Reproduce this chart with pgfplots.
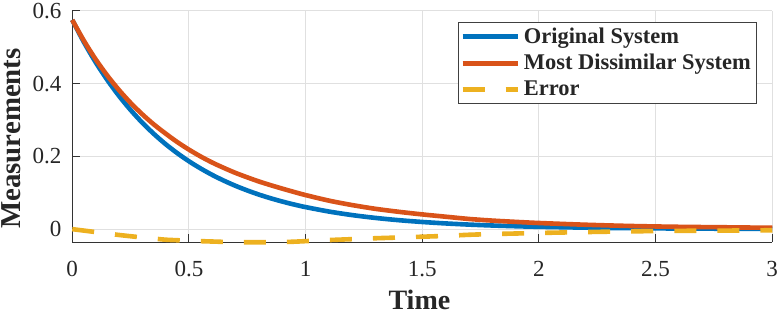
\documentclass[border=0pt]{standalone}
\usepackage{fontspec}
\setmainfont{Liberation Serif}
\usepackage{pgfplots}
\pgfplotsset{compat=1.18}
\definecolor{mblue}{rgb}{0,0.447,0.741}
\definecolor{morange}{rgb}{0.85,0.325,0.098}
\definecolor{myellow}{rgb}{0.929,0.694,0.125}
\begin{document}
\begin{tikzpicture}
\begin{axis}[
  scale only axis, width=349.5pt, height=115.5pt,
  xmin=0, xmax=3, ymin=-0.0358, ymax=0.6,
  axis x line*=bottom, axis y line*=left,
  axis line style={-, draw=black!80, line width=0.5pt},
  xtick={0,0.5,1,1.5,2,2.5,3},
  ytick={0,0.2,0.4,0.6},
  tick align=inside, major tick length=4pt,
  tick style={black!80, line width=0.5pt},
  grid=major, major grid style={black!12, line width=0.5pt},
  tick label style={font=\fontsize{11.5}{13}\selectfont, text=black!85, inner sep=0pt, /pgf/number format/assume math mode=true},
  xticklabel style={yshift=-9.5pt},
  yticklabel style={xshift=-5.25pt, inner ysep=1.5pt},
  xlabel={Time}, ylabel={Measurements},
  xlabel style={font=\fontsize{14}{16}\selectfont\bfseries, text=black!85,
    at={(axis description cs:0.496,-0.29)}, anchor=base, inner sep=2.6pt},
  ylabel style={font=\fontsize{14.4}{16}\selectfont\bfseries, text=black!85,
    at={(axis description cs:-0.0866,0.448)}, anchor=center, inner sep=1pt},
  clip=false,
  legend cell align=left,
  legend style={at={(0.9785,0.952)}, anchor=north east, draw=black!75, line width=0.5pt,
    font=\fontsize{11.2}{13}\selectfont\bfseries, text=black!85, inner xsep=1pt, inner ysep=0.5pt,
    row sep=0pt},
  legend image code/.code={\draw[#1] (0pt,0pt) -- (27.5pt,0pt);},
]
\addplot[mblue, line width=2.3pt, smooth] coordinates {
(0,0.575) (0.05,0.5138) (0.1,0.4591) (0.15,0.4103) (0.2,0.3666) (0.25,0.3276)
(0.3,0.2927) (0.35,0.2616) (0.4,0.2337) (0.45,0.2089) (0.5,0.1866) (0.55,0.1668)
(0.6,0.1490) (0.65,0.1332) (0.7,0.1190) (0.75,0.1064) (0.8,0.0950) (0.85,0.0849)
(0.9,0.0759) (0.95,0.0678) (1.0,0.0606) (1.1,0.0484)
(1.2,0.0386) (1.3,0.0308) (1.4,0.0246) (1.5,0.0197) (1.6,0.0157) (1.7,0.0125)
(1.8,0.0100) (1.9,0.0080) (2.0,0.0064) (2.2,0.0041) (2.4,0.0026) (2.6,0.0017)
(2.8,0.0011) (3.0,0.0007)};
\addlegendentry{Original System}
\addplot[morange, line width=2.3pt, smooth] coordinates {
(0,0.575) (0.05,0.5178) (0.1,0.4671) (0.15,0.4223) (0.2,0.3826) (0.25,0.3471)
(0.3,0.3157) (0.35,0.2876) (0.4,0.2627) (0.45,0.2394) (0.5,0.2186) (0.55,0.1998)
(0.6,0.1830) (0.65,0.1682) (0.7,0.1545) (0.75,0.1424) (0.8,0.1310) (0.85,0.1209)
(0.9,0.1114) (0.95,0.1023) (1.0,0.0936) (1.1,0.0784)
(1.2,0.0661) (1.3,0.0558) (1.4,0.0476) (1.5,0.0405) (1.6,0.0342) (1.7,0.0280)
(1.8,0.0235) (1.9,0.0200) (2.0,0.0169) (2.2,0.0121) (2.4,0.0086) (2.6,0.0064)
(2.8,0.0051) (3.0,0.0037)};
\addlegendentry{Most Dissimilar System}
\addplot[myellow, line width=2.3pt, smooth, dash pattern=on 11pt off 10.5pt] coordinates {
(0,0) (0.05,-0.004) (0.1,-0.008) (0.15,-0.012) (0.2,-0.016) (0.25,-0.0195)
(0.3,-0.023) (0.35,-0.026) (0.4,-0.029) (0.45,-0.0305) (0.5,-0.032) (0.55,-0.033)
(0.6,-0.034) (0.65,-0.035) (0.7,-0.0355) (0.75,-0.036) (0.8,-0.036) (0.85,-0.036)
(0.9,-0.0355) (0.95,-0.0345) (1.0,-0.033) (1.1,-0.030)
(1.2,-0.0275) (1.3,-0.025) (1.4,-0.023) (1.5,-0.0208) (1.6,-0.0185) (1.7,-0.0155)
(1.8,-0.0135) (1.9,-0.012) (2.0,-0.0105) (2.2,-0.008) (2.4,-0.006) (2.6,-0.0047)
(2.8,-0.004) (3.0,-0.003)};
\addlegendentry{Error}
\end{axis}
\end{tikzpicture}
\end{document}
